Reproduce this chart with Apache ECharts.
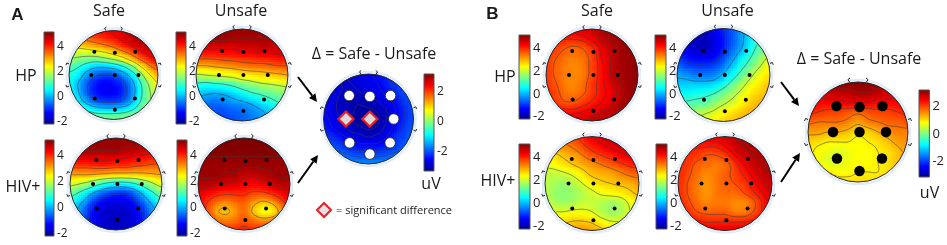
<!DOCTYPE html>
<html><head><meta charset="utf-8">
<style>html,body{margin:0;padding:0;background:#fff}#c{width:947px;height:245px}</style>
<script src="https://cdn.jsdelivr.net/npm/echarts@6/dist/echarts.min.js"></script>
</head><body><div id="c"></div>
<script>
// Potential maps: rows run y=+1 .. -1 (front to back), columns x=-1 .. +1
const aHpSafe=[[3.8,4,4.1,4.2,4.3,4.4,4.6,4.8,5,5,5],[3.2,3.3,3.5,3.7,3.9,4.1,4.4,4.7,4.9,5,5],[2.5,2.5,2.6,2.8,3,3.3,3.7,4.1,4.5,4.8,4.9],[1.8,1.7,1.6,1.6,1.8,2.1,2.5,3.1,3.7,4.2,4.5],[1.2,1,.6,.3,.3,.5,.9,1.6,2.5,3.3,3.8],[.8,.5,-.2,-.6,-.8,-.7,-.3,.4,1.4,2.4,3],[.6,.1,-.6,-1.1,-1.3,-1.2,-.9,-.2,.8,1.8,2.5],[.7,.2,-.6,-1.1,-1.3,-1.3,-1,-.3,.7,1.6,2.2],[1,.5,-.1,-.6,-.8,-.8,-.6,0,.9,1.6,2.2],[1.5,1.2,.9,.6,.5,.5,.6,.9,1.4,1.9,2.3],[2,1.9,1.7,1.5,1.5,1.5,1.6,1.7,1.9,2.2,2.4]];
const aHpUnsafe=[[5,5,5,5,5,5,5,5,5,5,5],[5,5,5,5,4.9,4.9,4.9,4.9,4.9,4.9,4.9],[4.5,4.5,4.5,4.5,4.5,4.6,4.6,4.7,4.7,4.7,4.7],[3.9,3.9,3.9,4,4,4.1,4.1,4.2,4.2,4.3,4.3],[3,3,3.1,3.2,3.3,3.4,3.5,3.5,3.6,3.7,3.7],[1.9,2,2.1,2.2,2.3,2.5,2.6,2.7,2.8,2.9,3],[.9,.8,.9,1,1.2,1.5,1.7,1.9,2,2.1,2.2],[.2,.1,0,.1,.3,.6,.9,1.1,1.3,1.5,1.6],[-.2,-.4,-.5,-.4,-.2,-.1,.1,.4,.7,1,1.2],[-.3,-.5,-.7,-.7,-.6,-.5,-.3,-.1,.2,.6,.9],[-.3,-.5,-.7,-.8,-.7,-.6,-.4,-.2,.1,.4,.7]];
const aHivSafe=[[5,5,5,5,5,5,5,5,5,5,5],[5,5,5,5,5,5,4.9,4.9,4.8,4.8,4.8],[4.6,4.6,4.6,4.6,4.6,4.6,4.5,4.4,4.3,4.2,4.2],[3.9,3.9,3.9,4,4,3.9,3.9,3.8,3.7,3.6,3.6],[3,3,3,2.9,2.8,2.7,2.7,2.7,2.8,2.9,3],[2.2,2,1.7,1.2,.8,.6,.6,.9,1.4,1.9,2.3],[1.3,.9,.3,-.3,-.7,-.9,-.9,-.5,.2,.9,1.4],[.7,.2,-.5,-1.1,-1.4,-1.5,-1.4,-1.1,-.5,.2,.8],[.4,-.2,-.9,-1.4,-1.7,-1.7,-1.7,-1.4,-.9,-.2,.3],[.3,-.3,-1,-1.5,-1.7,-1.8,-1.7,-1.5,-1,-.3,.2],[.3,-.3,-1,-1.5,-1.7,-1.8,-1.7,-1.5,-1,-.3,.2]];
const aHivUnsafe=[[5.2,5.2,5.2,5.2,5.2,5.2,5.2,5.2,5.2,5.2,5.2],[5.2,5.2,5.2,5.2,5.2,5.2,5.2,5.2,5.2,5.2,5.2],[5.1,5.1,5.1,5.1,5.1,5.1,5.1,5.1,5.1,5.1,5.1],[5,5,5,5,5,5,5,5,5,5,5],[5,5,5,4.9,4.9,4.7,4.7,4.8,4.9,5,5],[4.8,4.8,4.7,4.6,4.5,4.4,4.3,4.4,4.6,4.8,4.8],[4.5,4.3,4.1,4,4,4,3.8,3.8,4,4.3,4.5],[4.3,3.9,3.5,3.3,3.5,3.6,3.2,2.9,3.1,3.7,4.2],[4.2,3.8,3.1,2.9,3.2,3.5,2.9,2.4,2.5,3.2,3.9],[4.3,4,3.6,3.4,3.5,3.7,3.5,3.3,3.4,3.7,4],[4.4,4.2,4,3.9,3.9,4,3.9,3.9,3.9,4,4.2]];
const aDelta=[[-2.9,-2.8,-2.8,-2.8,-2.7,-2.6,-2.4,-2.2,-2.1,-2,-2],[-2.8,-2.8,-2.8,-2.8,-2.7,-2.6,-2.5,-2.3,-2.1,-2,-2],[-2.7,-2.7,-2.8,-2.9,-2.8,-2.7,-2.6,-2.4,-2.2,-2,-2],[-2.6,-2.7,-2.9,-3,-3,-2.9,-2.8,-2.6,-2.4,-2.1,-2],[-2.5,-2.7,-2.9,-3,-3.1,-3.1,-3,-2.8,-2.5,-2.2,-2],[-2.4,-2.6,-2.8,-3,-3.2,-3.3,-3.1,-2.8,-2.5,-2.2,-2],[-2.3,-2.5,-2.7,-2.9,-3,-3.1,-3,-2.7,-2.4,-2.1,-1.9],[-2.1,-2.2,-2.4,-2.6,-2.7,-2.8,-2.7,-2.5,-2.2,-2,-1.9],[-1.9,-2,-2.1,-2.3,-2.4,-2.4,-2.4,-2.3,-2.1,-1.9,-1.8],[-1.6,-1.7,-1.8,-1.9,-2,-2,-2,-1.9,-1.8,-1.7,-1.6],[-1.3,-1.4,-1.5,-1.6,-1.6,-1.6,-1.6,-1.6,-1.5,-1.4,-1.3]];
const bHpSafe=[[4.2,4.2,4.3,4.4,4.5,4.6,4.8,5,5.1,5.2,5.2],[4.1,4.1,4.1,4.1,4.2,4.4,4.7,4.9,5,5.1,5.2],[4,3.9,3.7,3.6,3.7,4,4.4,4.7,4.9,5.1,5.1],[3.9,3.7,3.5,3.4,3.5,3.8,4.3,4.6,4.9,5,5.1],[3.9,3.6,3.4,3.3,3.4,3.8,4.2,4.6,4.9,5,5.1],[3.9,3.6,3.4,3.3,3.4,3.8,4.2,4.6,4.9,5,5.1],[3.9,3.7,3.4,3.3,3.5,3.9,4.2,4.5,4.8,5,5.1],[4,3.8,3.5,3.4,3.6,3.9,4.2,4.4,4.7,5,5.1],[4.1,3.9,3.7,3.7,3.9,4.1,4.3,4.5,4.8,5,5.1],[4.3,4.3,4.2,4.2,4.3,4.4,4.6,4.7,4.9,5,5.1],[4.5,4.5,4.5,4.6,4.6,4.7,4.8,4.9,5,5.1,5.1]];
const bHpUnsafe=[[-1.5,-1.7,-1.8,-1.7,-1.4,-1,-.6,-.1,.4,.8,1.2],[-1.4,-1.6,-1.8,-1.8,-1.5,-1.1,-.6,-.1,.5,1,1.5],[-1.2,-1.5,-1.7,-1.8,-1.5,-1.1,-.5,0,.7,1.3,1.8],[-1,-1.2,-1.4,-1.4,-1.3,-.8,-.2,.4,1,1.6,2.1],[-.5,-.8,-.9,-.9,-.8,-.4,.2,.8,1.4,2,2.4],[-.1,-.2,-.4,-.4,-.3,.1,.7,1.3,1.9,2.4,2.6],[.2,.2,.2,.2,.3,.7,1.3,1.8,2.3,2.6,2.8],[.6,.6,.7,.8,1,1.4,1.8,2.2,2.6,2.8,3],[1.1,1.1,1.2,1.3,1.6,1.9,2.2,2.5,2.8,3,3],[1.6,1.6,1.7,1.9,2.1,2.4,2.6,2.8,3,3,3.1],[2,2,2.1,2.3,2.5,2.7,2.9,3,3,3.1,3.1]];
const bHivSafe=[[3.2,3.4,3.6,3.8,4.1,4.4,4.6,4.7,4.8,4.8,4.8],[2.9,3.1,3.3,3.5,3.8,4.1,4.3,4.5,4.6,4.7,4.7],[2.6,2.7,2.9,3.1,3.4,3.7,3.9,4.1,4.3,4.4,4.5],[2.3,2.4,2.6,2.8,3,3.2,3.4,3.6,3.8,4,4.1],[2,2,2.1,2.3,2.6,2.9,3,3.1,3.3,3.5,3.6],[1.9,1.8,1.7,1.9,2.2,2.5,2.7,2.8,2.9,3,3.2],[1.9,1.7,1.6,1.7,1.9,2.1,2.3,2.4,2.5,2.7,2.9],[2,1.8,1.7,1.8,2,2,1.9,1.8,1.9,2.3,2.6],[2.2,2.2,2.2,2.3,2.3,2.2,1.9,1.7,1.8,2.2,2.5],[2.5,2.6,2.7,2.8,2.8,2.7,2.4,2.2,2.2,2.4,2.6],[2.8,2.9,3,3.1,3.2,3.1,2.9,2.7,2.6,2.6,2.7]];
const bHivUnsafe=[[4.3,4.3,4.3,4.4,4.5,4.6,4.8,4.9,5,5,5],[4.1,4.1,4.1,4.1,4.1,4.3,4.6,4.8,4.9,5,5],[4,4,3.9,3.7,3.7,3.9,4.3,4.6,4.8,4.9,5],[4,3.9,3.6,3.5,3.4,3.5,3.9,4.3,4.6,4.8,4.9],[4,3.8,3.5,3.3,3.4,3.6,3.8,4.1,4.4,4.7,4.8],[4,3.7,3.4,3.2,3.4,3.6,3.7,3.9,4.2,4.5,4.7],[4,3.7,3.4,3.2,3.4,3.5,3.5,3.7,4,4.3,4.6],[4,3.8,3.5,3.3,3.4,3.4,3.3,3.3,3.6,4.1,4.4],[4.1,4,3.7,3.6,3.6,3.6,3.4,3.4,3.7,4.1,4.4],[4.3,4.2,4.1,4,4,4,4,4,4.1,4.3,4.5],[4.5,4.4,4.4,4.4,4.4,4.4,4.4,4.4,4.5,4.5,4.6]];
const bDelta=[[2.8,2.8,2.9,3,3.1,3.1,3.1,3,2.9,2.8,2.8],[2.6,2.6,2.7,2.8,2.8,2.9,2.9,2.8,2.7,2.6,2.6],[2.4,2.4,2.4,2.4,2.5,2.5,2.5,2.4,2.4,2.4,2.4],[2.2,2.1,2,2,1.9,1.8,1.9,2,2,2.1,2.2],[1.8,1.7,1.7,1.7,1.6,1.4,1.6,1.7,1.8,1.8,1.9],[1.4,1.4,1.3,1.3,1.2,1,1.1,1.3,1.5,1.6,1.6],[1.1,1,.9,.9,.9,.8,.9,1,1.2,1.4,1.5],[1,.8,.7,.6,.7,.8,.8,.9,1,1.2,1.4],[1,.8,.6,.6,.7,.8,.8,.9,1,1.2,1.3],[1.1,1,.9,.8,.8,.9,.9,.9,1,1.1,1.3],[1.2,1.1,1.1,1,1,1,1,1,1.1,1.2,1.3]];

const electrodes=[[-.43,.52],[.03,.5],[.49,.52],[-.5,0],[.03,0],[.56,0],[-.42,-.53],[.48,-.53],[.03,-.78]];
const significant=[3,4];
const earMarks=[[-.17,1,-.2,1.05,-.16,1.08],[.17,1,.2,1.05,.16,1.08],[-1,.25,-1.05,.27,-1.07,.22],[-1,-.25,-1.05,-.27,-1.07,-.22],[1,.25,1.05,.27,1.07,.22],[1,-.25,1.05,-.27,1.07,-.22]];
const mainTicks=[4,2,0,-2];
const deltaTicks=[2,0,-2];
const mainRange=[-2.2,5.2];
const deltaRangeA=[-3.27,3.2];
const deltaRangeB=[-3.1,3.15];
const mainLevels=[-1,0,1,2,3,3.7,4.4,4.9];
const levelsAHpSafe=[-.7,.1,.9,1.7,2.5,3.4,4.3];
const levelsAHivUnsafe=[3,3.9,4.6,4.95,5.1];
const levelsBHpSafe=[3.65,4.05,4.3,4.6,4.85];
const levelsBHivSafe=[2.2,2.8,3.4,3.9,4.4];
const levelsBHivUnsafe=[3.7,4.05,4.3,4.55,4.8];
const deltaLevelsA=[-3.05,-2.8,-2.5,-2.2,-1.9,-1.6];
const deltaLevelsB=[.9,1.3,1.7,2.1,2.5,2.9];
const jetStops=[[0,[0,0,140]],[.125,[0,0,255]],[.375,[0,255,255]],[.625,[255,255,0]],[.875,[255,0,0]],[1,[128,0,0]]];

const heads=[
 {d:aHpSafe,c:[113.5,75],r:44.5,range:mainRange,lv:levelsAHpSafe,kind:'small'},
 {d:aHpUnsafe,c:[242,75],r:46,range:mainRange,lv:mainLevels,kind:'small'},
 {d:aHivSafe,c:[116,184],r:46,range:mainRange,lv:mainLevels,kind:'small'},
 {d:aHivUnsafe,c:[244,184],r:46,range:mainRange,lv:levelsAHivUnsafe,kind:'small'},
 {d:aDelta,c:[368.5,119],r:45,range:deltaRangeA,lv:deltaLevelsA,kind:'white'},
 {d:bHpSafe,c:[592,75],r:46,range:mainRange,lv:levelsBHpSafe,kind:'small'},
 {d:bHpUnsafe,c:[723.5,75],r:46.5,range:mainRange,lv:mainLevels,kind:'small'},
 {d:bHivSafe,c:[592,183.5],r:47,range:mainRange,lv:levelsBHivSafe,kind:'small'},
 {d:bHivUnsafe,c:[725,183.5],r:47,range:mainRange,lv:levelsBHivUnsafe,kind:'small'},
 {d:bDelta,c:[858,132],r:50,range:deltaRangeB,lv:deltaLevelsB,kind:'black'}
];
const bars=[
 {x:44,y:32,w:10,h:92,range:mainRange,t:mainTicks,fs:12},
 {x:176,y:32,w:10,h:92,range:mainRange,t:mainTicks,fs:12},
 {x:45,y:140,w:9,h:96,range:mainRange,t:mainTicks,fs:12},
 {x:177,y:140,w:10,h:96,range:mainRange,t:mainTicks,fs:12},
 {x:424,y:74,w:10,h:97,range:deltaRangeA,t:deltaTicks,fs:12},
 {x:519,y:35,w:11,h:84,range:mainRange,t:mainTicks,fs:13},
 {x:655,y:35,w:11,h:84,range:mainRange,t:mainTicks,fs:13},
 {x:519,y:144,w:11,h:85,range:mainRange,t:mainTicks,fs:13},
 {x:656,y:144,w:11,h:85,range:mainRange,t:mainTicks,fs:13},
 {x:919,y:90,w:12,h:87,range:deltaRangeB,t:deltaTicks,fs:13}
];
const labels=[
 ['A',17.5,15,16,'bold'],['Safe',109,11,16],['Unsafe',241,11,16],['HP',26,76,16],['HIV+',23,187,16],
 ['\u0394 = Safe - Unsafe',374,54,16],['uV',431,184,16],
 ['B',492.5,14,16,'bold'],['Safe',597,11,16],['Unsafe',727.5,11,16],['HP',505,77,16],['HIV+',498,181,16],
 ['\u0394 = Safe - Unsafe',859,59,16],['uV',929.5,193,16]
];
const arrows=[[298,77,317,102],[298,183,318,155],[781,82,799,106],[781,182,800,153]];

function jet(v,range){
  let t=Math.max(0,Math.min(1,(v-range[0])/(range[1]-range[0])));
  for(let i=1;i<jetStops.length;i++){
    if(t<=jetStops[i][0]){
      const a=jetStops[i-1],b=jetStops[i],k=(t-a[0])/(b[0]-a[0]);
      return 'rgb('+[0,1,2].map(n=>Math.round(a[1][n]+(b[1][n]-a[1][n])*k)).join(',')+')';
    }
  }
  return 'rgb(128,0,0)';
}
// Display shading only: smooth the read grid when painting a head, like Gouraud shading of a surface.
function cr(p0,p1,p2,p3,t){return .5*(2*p1+(p2-p0)*t+(2*p0-5*p1+4*p2-p3)*t*t+(3*p1-p0-3*p2+p3)*t*t*t);}
const SUB=5,STEP=.2/SUB;
function shader(g){
  const memo={};
  const at=(r,c)=>g[Math.max(0,Math.min(10,r))][Math.max(0,Math.min(10,c))];
  return (I,J)=>{
    const key=I+'_'+J; if(key in memo) return memo[key];
    const c=Math.min(9,Math.floor(I/SUB)),r=Math.min(9,Math.floor(J/SUB)),u=I/SUB-c,v=J/SUB-r;
    const row=[];
    for(let k=-1;k<=2;k++) row.push(cr(at(r+k,c-1),at(r+k,c),at(r+k,c+1),at(r+k,c+2),u));
    return memo[key]=cr(row[0],row[1],row[2],row[3],v);
  };
}
function fieldRender(h){
  const s=shader(h.d);
  return function(params,api){
    const c=api.value(2),r=api.value(3),kids=[];
    for(let a=0;a<SUB;a++)for(let b=0;b<SUB;b++){
      const I=c*SUB-2+a,J=r*SUB-2+b;
      if(I<0||J<0||I>=10*SUB||J>=10*SUB) continue;
      const x0=-1+I*STEP,x1=x0+STEP,y0=1-J*STEP,y1=y0-STEP;
      const dist=Math.hypot((x0+x1)/2,(y0+y1)/2);
      if(dist>1.03) continue;
      const p=api.coord([x0,y0]),q=api.coord([x1,y1]);
      const va=s(I,J),vb=s(I+1,J),vc=s(I+1,J+1),vd=s(I,J+1);
      const X0=Math.round(p[0]),Y0=Math.round(p[1]),X1=Math.round(q[0]),Y1=Math.round(q[1]);
      kids.push({type:'rect',shape:{x:X0,y:Y0,width:X1-X0,height:Y1-Y0},style:{fill:jet((va+vb+vc+vd)/4,h.range)},silent:true});
      if(dist<=.985){
        h.lv.forEach(L=>{
          const pts=[];
          const edge=(v1,v2,x1e,y1e,x2e,y2e)=>{
            if((v1<L)!==(v2<L)){const t=(L-v1)/(v2-v1);pts.push(api.coord([x1e+(x2e-x1e)*t,y1e+(y2e-y1e)*t]));}
          };
          edge(va,vb,x0,y0,x1,y0);edge(vb,vc,x1,y0,x1,y1);edge(vc,vd,x1,y1,x0,y1);edge(vd,va,x0,y1,x0,y0);
          for(let n=0;n+1<pts.length;n+=2){
            kids.push({type:'line',z2:5,shape:{x1:pts[n][0],y1:pts[n][1],x2:pts[n+1][0],y2:pts[n+1][1]},style:{stroke:'rgba(60,60,60,.62)',lineWidth:.9},silent:true});
          }
        });
      }
    }
    return {type:'group',children:kids};
  };
}
function frameRender(params,api){
  const o=api.coord([0,0]),R=api.size([1,0])[0],kids=[
    {type:'circle',shape:{cx:o[0],cy:o[1],r:R+2.5},style:{fill:'none',stroke:'#fff',lineWidth:5}},
    {type:'circle',shape:{cx:o[0],cy:o[1],r:R+2},style:{fill:'none',stroke:'#e2ecf9',lineWidth:2.5}},
    {type:'circle',shape:{cx:o[0],cy:o[1],r:R},style:{fill:'none',stroke:'#262626',lineWidth:1}}
  ];
  earMarks.forEach(m=>{
    const a=api.coord([m[0],m[1]]),b=api.coord([m[2],m[3]]),c=api.coord([m[4],m[5]]);
    kids.push({type:'polyline',shape:{points:[a,b,c]},style:{fill:'none',stroke:'#262626',lineWidth:1}});
  });
  return {type:'group',children:kids};
}
const grid=[],xAxis=[],yAxis=[],series=[];
heads.forEach((h,i)=>{
  const span=1.2*h.r;
  grid.push({left:h.c[0]-span,top:h.c[1]-span,width:2*span,height:2*span});
  xAxis.push({type:'value',gridIndex:i,min:-1.2,max:1.2,show:false});
  yAxis.push({type:'value',gridIndex:i,min:-1.2,max:1.2,show:false});
  const nodes=[];
  h.d.forEach((row,r)=>row.forEach((v,c)=>nodes.push([-1+c*.2,1-r*.2,c,r,v])));
  series.push({type:'custom',xAxisIndex:i,yAxisIndex:i,z:2,silent:true,animation:false,clip:false,renderItem:fieldRender(h),encode:{x:0,y:1},data:nodes});
  series.push({type:'custom',xAxisIndex:i,yAxisIndex:i,z:3,silent:true,animation:false,clip:false,renderItem:frameRender,encode:{x:0,y:1},data:[[0,0]]});
  if(h.kind==='small'){
    series.push({type:'scatter',xAxisIndex:i,yAxisIndex:i,z:4,silent:true,animation:false,symbolSize:4,itemStyle:{color:'#000',opacity:1},data:electrodes});
  }else if(h.kind==='black'){
    series.push({type:'scatter',xAxisIndex:i,yAxisIndex:i,z:4,silent:true,animation:false,symbolSize:10.5,itemStyle:{color:'#000',opacity:1},data:electrodes});
  }else{
    series.push({type:'scatter',xAxisIndex:i,yAxisIndex:i,z:4,silent:true,animation:false,symbolSize:10.5,itemStyle:{color:'#fff',borderColor:'#222',borderWidth:.8,opacity:1},data:electrodes.filter((e,n)=>!significant.includes(n))});
    series.push({type:'scatter',xAxisIndex:i,yAxisIndex:i,z:4,silent:true,animation:false,symbol:'diamond',symbolSize:15,itemStyle:{color:'#d9d9d9',borderColor:'#ee1c25',borderWidth:2.2,opacity:1},data:electrodes.filter((e,n)=>significant.includes(n))});
  }
});
bars.forEach((b,k)=>{
  const i=heads.length+k;
  grid.push({left:b.x,top:b.y,width:b.w,height:b.h});
  xAxis.push({type:'value',gridIndex:i,min:0,max:1,show:false});
  yAxis.push({type:'value',gridIndex:i,position:'right',z:6,min:b.range[0],max:b.range[1],axisLine:{show:false},axisTick:{show:false},splitLine:{show:false},
    axisLabel:{customValues:b.t,margin:3,fontFamily:'Open Sans',fontSize:b.fs,color:'#222'}});
  series.push({type:'custom',xAxisIndex:i,yAxisIndex:i,z:2,silent:true,animation:false,clip:false,data:[[0,b.range[0],1,b.range[1]]],encode:{x:[0,2],y:[1,3]},
    renderItem:(p,api)=>{
      const a=api.coord([api.value(0),api.value(3)]),c=api.coord([api.value(2),api.value(1)]);
      return {type:'rect',shape:{x:a[0],y:a[1],width:c[0]-a[0],height:c[1]-a[1]},style:{stroke:'#555',lineWidth:1,
        fill:new echarts.graphic.LinearGradient(0,1,0,0,jetStops.map(s=>({offset:s[0],color:'rgb('+s[1].join(',')+')'})))}};
    }});
});
const graphic=[];
labels.forEach(l=>graphic.push({type:'text',x:l[1],y:l[2],z:10,silent:true,style:{text:l[0],align:'center',verticalAlign:'middle',fill:'#1a1a1a',
  font:(l[4]==='bold'?'bold 17px "Liberation Sans"':l[3]+'px "Open Sans"')}}));
graphic.push({type:'text',x:336,y:211,z:10,silent:true,style:{text:'= significant difference',align:'left',verticalAlign:'middle',fill:'#222',font:'11px "Open Sans"'}});
graphic.push({type:'polygon',x:324,y:210,z:10,silent:true,shape:{points:[[0,-7],[7,0],[0,7],[-7,0]]},style:{fill:'#e4e4e4',stroke:'#ee1c25',lineWidth:2}});
arrows.forEach(a=>{
  const ang=Math.atan2(a[3]-a[1],a[2]-a[0]),L=8,W=4;
  const bx=a[2]-L*Math.cos(ang),by=a[3]-L*Math.sin(ang),nx=-Math.sin(ang),ny=Math.cos(ang);
  graphic.push({type:'line',z:10,silent:true,shape:{x1:a[0],y1:a[1],x2:bx,y2:by},style:{stroke:'#000',lineWidth:2}});
  graphic.push({type:'polygon',z:10,silent:true,shape:{points:[[a[2],a[3]],[bx+nx*W,by+ny*W],[bx-nx*W,by-ny*W]]},style:{fill:'#000'}});
});
const chart=echarts.init(document.getElementById('c'),null,{renderer:'canvas'});
chart.setOption({animation:false,backgroundColor:'#fff',grid,xAxis,yAxis,series,graphic,tooltip:{show:false}});
</script></body></html>
